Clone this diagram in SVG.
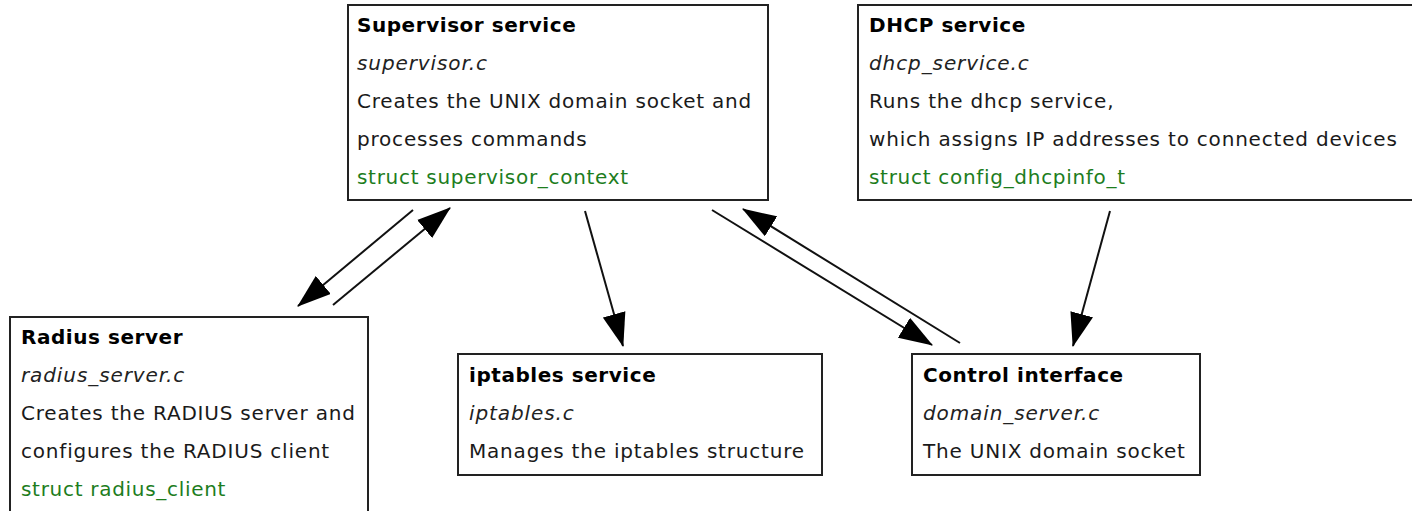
<svg xmlns="http://www.w3.org/2000/svg" width="1412" height="511" viewBox="0 0 1412 511">
  <style>
    .box { fill: #ffffff; stroke: #222222; stroke-width: 2; }
    text { font-family: "DejaVu Sans", "Verdana", sans-serif; font-size: 20px; fill: #1a1a1a; letter-spacing: 0.8px; }
    .title { font-weight: bold; fill: #000000; letter-spacing: 0.55px; }
    .file { font-style: italic; fill: #222222; letter-spacing: 0.9px; }
    .struct { fill: #1d7d1d; letter-spacing: 0.7px; }
    .edge { stroke: #111111; stroke-width: 2; fill: none; marker-end: url(#arrow); }
  </style>
  <defs>
    <marker id="arrow" markerUnits="userSpaceOnUse" markerWidth="34" markerHeight="24" viewBox="0 0 32 22" refX="31" refY="11" orient="auto">
      <polygon points="0,0 32,11 0,22" fill="#000000"/>
    </marker>
  </defs>

  <rect width="1412" height="511" fill="#ffffff"/>

  <g id="supervisor">
    <rect class="box" x="348" y="5" width="420" height="195"/>
    <text class="title" x="357" y="32">Supervisor service</text>
    <text class="file" x="357" y="70">supervisor.c</text>
    <text x="357" y="108">Creates the UNIX domain socket and</text>
    <text x="357" y="146">processes commands</text>
    <text class="struct" x="357" y="184">struct supervisor_context</text>
  </g>

  <g id="dhcp">
    <rect class="box" x="858" y="5" width="562" height="195"/>
    <text class="title" x="869" y="32">DHCP service</text>
    <text class="file" x="869" y="70">dhcp_service.c</text>
    <text x="869" y="108">Runs the dhcp service,</text>
    <text x="869" y="146">which assigns IP addresses to connected devices</text>
    <text class="struct" x="869" y="184">struct config_dhcpinfo_t</text>
  </g>

  <g id="radius">
    <rect class="box" x="10" y="317" width="358" height="210"/>
    <text class="title" x="21" y="344">Radius server</text>
    <text class="file" x="21" y="382">radius_server.c</text>
    <text x="21" y="420">Creates the RADIUS server and</text>
    <text x="21" y="458">configures the RADIUS client</text>
    <text class="struct" x="21" y="496">struct radius_client</text>
  </g>

  <g id="iptables">
    <rect class="box" x="458" y="354" width="364" height="121"/>
    <text class="title" x="469" y="382">iptables service</text>
    <text class="file" x="469" y="420">iptables.c</text>
    <text x="469" y="458">Manages the iptables structure</text>
  </g>

  <g id="control">
    <rect class="box" x="912" y="354" width="288" height="121"/>
    <text class="title" x="923" y="382">Control interface</text>
    <text class="file" x="923" y="420">domain_server.c</text>
    <text x="923" y="458">The UNIX domain socket</text>
  </g>

  <g id="connectors">
    <line class="edge" x1="413" y1="210" x2="298" y2="306"/>
    <line class="edge" x1="333" y1="305" x2="450" y2="208"/>
    <line class="edge" x1="585" y1="211" x2="623" y2="346"/>
    <line class="edge" x1="712" y1="210" x2="932" y2="345"/>
    <line class="edge" x1="960" y1="343" x2="743" y2="209"/>
    <line class="edge" x1="1110" y1="211" x2="1073" y2="346"/>
  </g>
</svg>
